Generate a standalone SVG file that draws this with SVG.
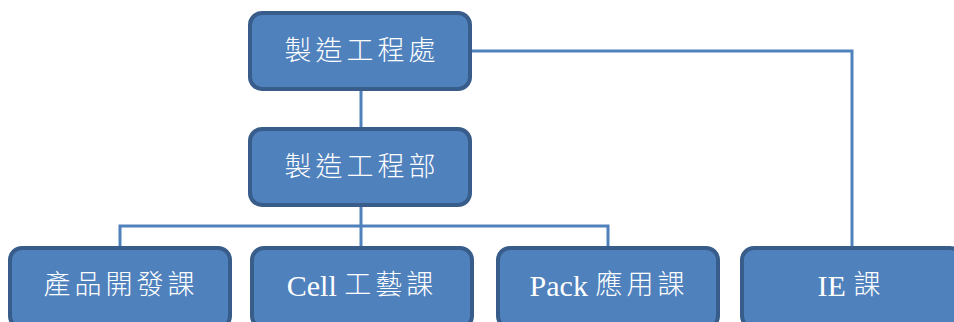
<svg xmlns="http://www.w3.org/2000/svg" width="954" height="322" viewBox="0 0 954 322">
<style>
.box{fill:#4f81bd;stroke:#385d8a;stroke-width:4}
.lbl{fill:#ffffff;font-family:"Liberation Serif","Noto Sans CJK TC",serif;font-size:30px;text-anchor:middle;dominant-baseline:central}
.cj{letter-spacing:4px;font-size:27px;font-weight:300}
.conn{fill:none;stroke:#4f81bd;stroke-width:3}
</style>
<rect width="954" height="322" fill="#ffffff"/>
<g id="connectors">
<path class="conn" d="M361 89 V129"/>
<path class="conn" d="M470 51 H852 V246"/>
<path class="conn" d="M361 205 V246"/>
<path class="conn" d="M120 246 V226 H608 V246"/>
</g>
<g id="n1"><rect class="box" x="250" y="13" width="220" height="76" rx="12"/><text class="lbl cj" x="362" y="51">製造工程處</text></g>
<g id="n2"><rect class="box" x="250" y="129" width="220" height="76" rx="12"/><text class="lbl cj" x="362" y="167">製造工程部</text></g>
<g id="n3"><rect class="box" x="10" y="248" width="220" height="80" rx="12"/><text class="lbl cj" x="121" y="285">產品開發課</text></g>
<g id="n4"><rect class="box" x="252" y="248" width="220" height="80" rx="12"/><text class="lbl" x="362" y="285">Cell <tspan class="cj">工藝課</tspan></text></g>
<g id="n5"><rect class="box" x="498" y="248" width="220" height="80" rx="12"/><text class="lbl" x="609" y="285">Pack <tspan class="cj">應用課</tspan></text></g>
<g id="n6"><rect class="box" x="742" y="248" width="220" height="80" rx="12"/><text class="lbl" x="851" y="285">IE <tspan class="cj">課</tspan></text></g>
</svg>
